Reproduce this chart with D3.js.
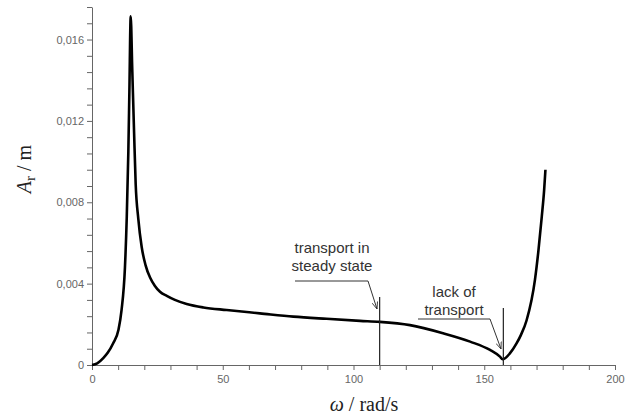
<!DOCTYPE html>
<html>
<head>
<meta charset="utf-8">
<script src="https://cdn.jsdelivr.net/npm/d3@7"></script>
<style>
  html, body { margin: 0; padding: 0; background: #fff; }
  svg { display: block; }
  .tick text { font-family: "Liberation Sans Narrow", "Liberation Sans", Arial, sans-serif; font-size: 11px; fill: #666; }
  .axis path, .axis line { stroke: #666; }
  .note { font-family: "Liberation Sans", Arial, sans-serif; font-size: 15px; fill: #333; }
  .title { font-family: "Liberation Serif", "Times New Roman", serif; font-size: 20px; fill: #222; }
  .it { font-style: italic; }
</style>
</head>
<body>
<svg id="canvas"></svg>
<script>
const WIDTH = 633;
const HEIGHT = 417;

// curve: omega in rad/s, amplitude in m
const omega = [0, 2, 4.3, 6, 8.1, 10.1, 11.3, 12.6, 13.3, 13.9, 14.3, 14.8, 15.4, 16.1, 16.7,
  17.7, 19.0, 20.5, 22.2, 24, 26, 28.6, 31.7, 36.2, 42.6, 51.5, 64.2, 77, 89.7, 102.5, 110,
  121.6, 134.3, 144.6, 152.2, 156, 157, 159.8, 162.4, 164, 166.2, 169.4, 170.7, 172, 172.9, 173.4];
const amplitude = [0, 0.00008, 0.00034, 0.0006, 0.00107, 0.00172, 0.0027, 0.0048, 0.0073, 0.0105, 0.0135, 0.01714, 0.0145, 0.0114, 0.0089,
  0.0072, 0.0058, 0.0049, 0.0043, 0.0039, 0.0036, 0.0034, 0.0032, 0.0030, 0.00283, 0.0027, 0.00254, 0.00238, 0.00227, 0.00217, 0.00212,
  0.00196, 0.00156, 0.00115, 0.00074, 0.00041, 0.00028, 0.00057, 0.00107, 0.00147, 0.0022, 0.0042, 0.0056, 0.0073, 0.0086, 0.0096];

const xMajor = [0, 50, 100, 150, 200];
const xLabels = ["0", "50", "100", "150", "200"];
const yMajor = [0, 0.004, 0.008, 0.012, 0.016];
const yLabels = ["0", "0,004", "0,008", "0,012", "0,016"];

// marked frequencies with their notes
const markOmega = [110, 157.3];
const markNotes = [["transport in", "steady state"], ["lack of", "transport"]];

const canvas = d3.select("#canvas").attr("width", WIDTH).attr("height", HEIGHT);

const xScale = d3.scaleLinear().domain([0, 200]).range([92, 615]);
const yScale = d3.scaleLinear().domain([0, 0.0176]).range([365, 7]);

// axes
const xTicks = d3.range(0, 201, 10);
const xAxis = d3.axisBottom(xScale)
  .tickValues(xTicks)
  .tickSize(5)
  .tickSizeOuter(0)
  .tickPadding(5)
  .tickFormat((d) => { const i = xMajor.indexOf(d); return i >= 0 ? xLabels[i] : ""; });

canvas.append("g")
  .attr("class", "axis")
  .attr("transform", "translate(0," + yScale(0) + ")")
  .call(xAxis);

const yTicks = d3.range(0, 23).map((i) => +(i * 0.0008).toFixed(4));
const yAxis = d3.axisLeft(yScale)
  .tickValues(yTicks)
  .tickSize(5)
  .tickSizeOuter(0)
  .tickPadding(3)
  .tickFormat((d) => {
    const i = yMajor.findIndex((v) => Math.abs(v - d) < 1e-9);
    return i >= 0 ? yLabels[i] : "";
  });

canvas.append("g")
  .attr("class", "axis")
  .attr("transform", "translate(" + xScale(0) + ",0)")
  .call(yAxis);

// curve
const points = omega.map((w, i) => [w, amplitude[i]]);
const line = d3.line()
  .x((d) => xScale(d[0]))
  .y((d) => yScale(d[1]))
  .curve(d3.curveMonotoneX);

canvas.append("path")
  .datum(points)
  .attr("d", line)
  .attr("fill", "none")
  .attr("stroke", "#000")
  .attr("stroke-width", 2.6)
  .attr("stroke-linejoin", "round");

// arrow marker
canvas.append("defs").append("marker")
  .attr("id", "arrow")
  .attr("viewBox", "0 -5 10 10")
  .attr("refX", 10)
  .attr("refY", 0)
  .attr("markerWidth", 7)
  .attr("markerHeight", 7)
  .attr("markerUnits", "userSpaceOnUse")
  .attr("orient", "auto")
  .append("path")
  .attr("d", "M0,-4L10,0L0,4")
  .attr("fill", "none")
  .attr("stroke", "#333")
  .attr("stroke-width", 1.2);

// vertical marker lines and notes
const lineTop = [297, 308];
const noteX = [332, 454];
const noteY = [253, 297];
const leader = [[295, 368, 281, 377, 309], [418, 490, 319, 501, 349]];

markOmega.forEach((w, i) => {
  const x = xScale(w);
  canvas.append("line")
    .attr("x1", x).attr("x2", x)
    .attr("y1", lineTop[i]).attr("y2", yScale(0))
    .attr("stroke", "#222").attr("stroke-width", 1.2);

  const t = canvas.append("text").attr("class", "note").attr("text-anchor", "middle");
  markNotes[i].forEach((s, j) => {
    t.append("tspan").attr("x", noteX[i]).attr("y", noteY[i] + j * 18).text(s);
  });

  const [a, b, hy, tx, ty] = leader[i];
  canvas.append("path")
    .attr("d", "M" + a + "," + hy + "L" + b + "," + hy + "L" + tx + "," + ty)
    .attr("fill", "none")
    .attr("stroke", "#333")
    .attr("stroke-width", 1)
    .attr("marker-end", "url(#arrow)");
});

// axis titles
const xt = canvas.append("text").attr("class", "title")
  .attr("x", 364).attr("y", 411).attr("text-anchor", "middle");
xt.append("tspan").attr("class", "it").text("ω");
xt.append("tspan").text(" / rad/s");

const yt = canvas.append("text").attr("class", "title")
  .attr("transform", "translate(31,169) rotate(-90)")
  .attr("text-anchor", "middle");
yt.append("tspan").attr("class", "it").text("A");
yt.append("tspan").attr("font-size", "15px").attr("dy", 4).text("r");
yt.append("tspan").attr("dy", -4).text(" / m");
</script>
</body>
</html>
